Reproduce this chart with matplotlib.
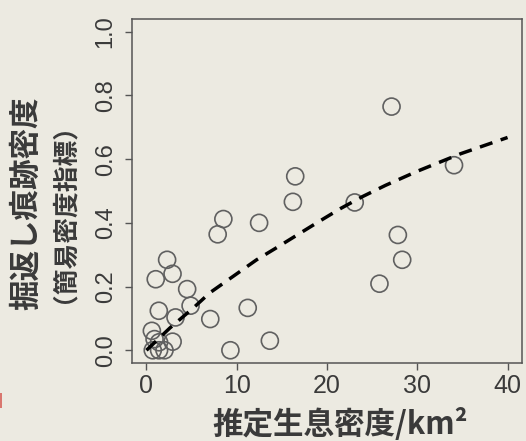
import numpy as np
import matplotlib
matplotlib.use("Agg")
import matplotlib.pyplot as plt
from matplotlib.patches import Rectangle

# estimated density (per km2) vs. digging trace density
density = [27.15, 34.07, 16.48, 16.22, 23.07, 8.52, 7.89, 12.48, 27.85, 28.33,
           25.81, 2.29, 2.89, 1.03, 4.51, 4.89, 1.37, 3.22, 7.07, 11.22,
           13.67, 9.3, 0.6, 2.9, 0.9, 1.4, 0.7, 1.4, 2.0]
trace = [0.765, 0.581, 0.546, 0.466, 0.464, 0.412, 0.364, 0.40, 0.362, 0.284,
         0.209, 0.284, 0.240, 0.223, 0.192, 0.140, 0.124, 0.103, 0.098, 0.133,
         0.030, 0.0, 0.061, 0.027, 0.035, 0.025, 0.0, 0.0, 0.0]

# fitted curve
fit_x = [0, 2.6, 5.2, 7.0, 9.3, 12.2, 14.3, 16.7, 19.1, 21.5, 23.9, 26.5, 30, 34.8, 40]
fit_y = [0, 0.07, 0.133, 0.18, 0.226, 0.284, 0.32, 0.362, 0.404, 0.445, 0.482,
         0.518, 0.562, 0.617, 0.668]

xticks = [0, 10, 20, 30, 40]
yticks = [0.0, 0.2, 0.4, 0.6, 0.8, 1.0]

bg = '#ECEAE1'
txt = '#3a3a3a'
jp = ['Noto Sans CJK JP', 'DejaVu Sans']

fig = plt.figure(figsize=(5.26, 4.41), dpi=100, facecolor=bg)
ax = fig.add_axes([132/526, 78/441, 390/526, 344/441])
ax.set_facecolor(bg)

ax.scatter(density, trace, s=150, facecolors='none', edgecolors='#606060', linewidths=1.2, zorder=2)
ax.plot(fit_x, fit_y, color='black', lw=2.5, dashes=(3.8, 2.5), zorder=3)

ax.set_xlim(-1.6, 41.6)
ax.set_ylim(-0.04, 1.04)
ax.set_xticks(xticks)
ax.set_xticklabels([str(t) for t in xticks], fontfamily='Liberation Sans', fontsize=18, color=txt)
ax.set_yticks(yticks)
ax.set_yticklabels(['%.1f' % t for t in yticks], fontfamily='Liberation Sans', fontsize=17,
                   color=txt, rotation=90, va='center')
ax.tick_params(axis='both', direction='out', length=5, width=1, color='#555555')
ax.tick_params(axis='x', pad=3)
ax.tick_params(axis='y', pad=6)
for sp in ax.spines.values():
    sp.set_color('#555555')
    sp.set_linewidth(1.1)

fig.text(0.646, 0.037, '推定生息密度/km²', family=jp, fontsize=22, fontweight='bold',
         color=txt, ha='center', va='center')
fig.text(0.05, 0.54, '掘返し痕跡密度', family=jp, fontsize=22, fontweight='bold',
         color=txt, ha='center', va='center', rotation=90)
fig.text(0.096, 0.546, '（簡易密度指標）', family=jp, fontsize=18.5, fontweight='bold',
         color=txt, ha='center', va='center', rotation=90)

# little red mark on the left edge
fig.patches.append(Rectangle((0, 1 - 408/441), 2/526, 15/441, transform=fig.transFigure,
                             color='#d9776f', lw=0))

plt.savefig('out.png', dpi=100, facecolor=bg)
